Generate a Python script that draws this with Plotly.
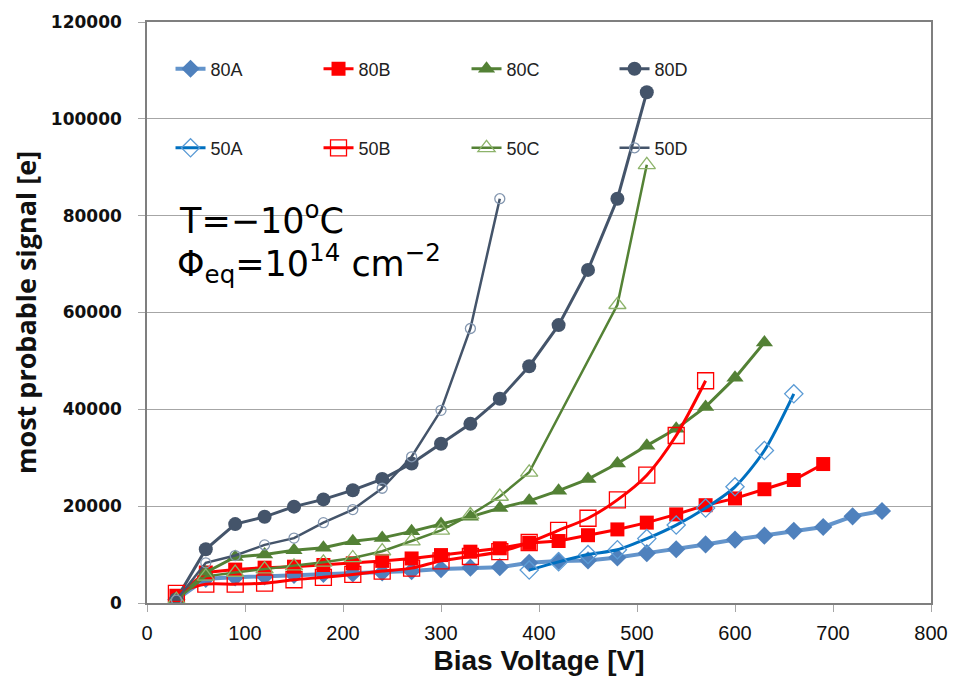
import plotly.graph_objects as go

# Bias voltage [V] and most probable signal [e] per sensor
v_80A = [30, 60, 90, 120, 150, 180, 210, 240, 270, 300, 330, 360, 390, 420, 450,
         480, 510, 540, 570, 600, 630, 660, 690, 720, 750]
s_80A = [700, 5000, 5300, 5500, 5800, 6000, 6100, 6300, 6600, 7000, 7300, 7400, 8300,
         8700, 8800, 9400, 10300, 11100, 12100, 13100, 13900, 14900, 15700, 17900, 19000]

v_80B = [30, 60, 90, 120, 150, 180, 210, 240, 270, 300, 330, 360, 390, 420, 450,
         480, 510, 540, 570, 600, 630, 660, 690]
s_80B = [1500, 6300, 6900, 7300, 7500, 7850, 8200, 8700, 9200, 9900, 10600, 11300,
         12400, 12800, 14000, 15200, 16600, 18300, 20200, 21600, 23500, 25400, 28700]

v_80C = [30, 60, 90, 120, 150, 180, 210, 240, 270, 300, 330, 360, 390, 420, 450,
         480, 510, 540, 570, 600, 630]
s_80C = [700, 6300, 9500, 10000, 10900, 11400, 12750, 13450, 14800, 16300, 17800,
         19600, 21100, 23200, 25600, 28800, 32500, 36000, 40500, 46500, 53800]

v_80D = [30, 60, 90, 120, 150, 180, 210, 240, 270, 300, 330, 360, 390, 420, 450, 480, 510]
s_80D = [800, 11100, 16300, 17800, 19900, 21400, 23300, 25600, 28800, 32900, 37000,
         42200, 48900, 57400, 68800, 83500, 105500]

v_50A = [390, 420, 450, 480, 510, 540, 570, 600, 630, 660]
s_50A = [6800, 8500, 10000, 11000, 13300, 16100, 19600, 24000, 31500, 43200]

v_50B = [30, 60, 90, 120, 150, 180, 210, 240, 270, 300, 330, 360, 390, 420, 450,
         480, 510, 540, 570]
s_50B = [2000, 3900, 3900, 4100, 4800, 5300, 5900, 6600, 7200, 8700, 9600, 10600,
         12500, 15000, 17500, 21300, 26400, 34600, 45900]

v_50C = [30, 60, 90, 120, 150, 180, 210, 240, 270, 300, 330, 360, 390, 480, 510]
s_50C = [700, 5500, 6300, 7000, 7600, 8400, 9300, 10700, 12800, 15000, 18200, 22000,
         27000, 61600, 90500]

v_50D = [30, 60, 90, 120, 150, 180, 210, 240, 270, 300, 330, 360]
s_50D = [600, 8300, 9800, 12000, 13400, 16600, 19300, 23700, 30200, 39800, 56700, 83500]

x_ticks = [0, 100, 200, 300, 400, 500, 600, 700, 800]
y_ticks = [0, 20000, 40000, 60000, 80000, 100000, 120000]

fig = go.Figure()

# 80 um sensors: filled markers, straight segments
series_80 = [
    ("80A", v_80A, s_80A, "#6394CB", "#4F81BD", "diamond", 14, 4),
    ("80B", v_80B, s_80B, "#FF0000", "#FF0000", "square", 14, 3),
    ("80C", v_80C, s_80C, "#538135", "#538135", "triangle-up", 15, 3),
    ("80D", v_80D, s_80D, "#44546A", "#44546A", "circle", 14, 3),
]
for name, xs, ys, lc, mc, sym, ms, lw in series_80:
    fig.add_trace(go.Scatter(
        x=xs, y=ys, name=name, mode="lines+markers", legend="legend",
        line=dict(color=lc, width=lw),
        marker=dict(symbol=sym, size=ms, color=mc, line=dict(width=0)),
    ))

# 50 um sensors: open markers
series_50 = [
    ("50A", v_50A, s_50A, "#0070C0", "#5B9BD5", "diamond-open", 14, 3, "spline"),
    ("50B", v_50B, s_50B, "#FF0000", "#FF0000", "square-open", 16, 3, "spline"),
    ("50C", v_50C, s_50C, "#548235", "#8DB36B", "triangle-up-open", 15, 2.5, "linear"),
    ("50D", v_50D, s_50D, "#44546A", "#8497B0", "circle-open", 10, 2.5, "linear"),
]
for name, xs, ys, lc, mc, sym, ms, lw, shape in series_50:
    fig.add_trace(go.Scatter(
        x=xs, y=ys, name=name, mode="lines+markers", legend="legend2",
        line=dict(color=lc, width=lw, shape=shape, smoothing=0.8),
        marker=dict(symbol=sym, size=ms, color=mc, line=dict(width=1.3, color=mc)),
    ))

legend_common = dict(
    orientation="h", xanchor="left", yanchor="middle",
    bgcolor="rgba(0,0,0,0)", entrywidth=103, entrywidthmode="pixels",
    font=dict(family="Liberation Sans, Arial, sans-serif", size=18, color="#222222"),
    itemsizing="trace",
)
fig.update_layout(
    width=960, height=683,
    margin=dict(l=147, r=23, t=19, b=78),
    paper_bgcolor="white", plot_bgcolor="white",
    showlegend=True,
    legend=dict(x=0.03, y=0.919, **legend_common),
    legend2=dict(x=0.03, y=0.783, **legend_common),
    xaxis=dict(
        range=[0, 800], tickvals=x_ticks, ticktext=[str(t) for t in x_ticks],
        showgrid=False, zeroline=False,
        showline=True, linecolor="#7F7F7F", linewidth=1.5, mirror=True,
        ticks="outside", ticklen=7, tickcolor="#A6A6A6", tickwidth=1,
        ticklabelstandoff=4,
        tickfont=dict(family="Liberation Sans Narrow, Arial Narrow, sans-serif", size=20,
                      color="#111111"),
        title=dict(text="<b>Bias Voltage [V]</b>", standoff=8,
                   font=dict(family="Liberation Sans Narrow, Arial Narrow, sans-serif",
                             size=28, color="#111111")),
    ),
    yaxis=dict(
        range=[0, 120000], tickvals=y_ticks, ticktext=[str(t) for t in y_ticks],
        showgrid=True, gridcolor="#A6A6A6", gridwidth=1.3, zeroline=False,
        showline=True, linecolor="#7F7F7F", linewidth=1.5, mirror=True,
        ticks="outside", ticklen=7, tickcolor="#A6A6A6", tickwidth=1,
        ticklabelstandoff=13,
        tickfont=dict(family="DejaVu Sans, Verdana, sans-serif", size=17, color="#111111",
                      weight="bold"),
        title=dict(text="<b>most probable signal [e]</b>", standoff=6,
                   font=dict(family="Open Sans, sans-serif", size=27, color="#111111")),
    ),
)

# Measurement conditions
fig.add_annotation(
    xref="paper", yref="paper", x=(177 - 147) / 790, y=(605 - 217) / 586,
    xanchor="left", yanchor="middle", showarrow=False,
    text="T=\u221210<sup>o</sup>C",
    font=dict(family="DejaVu Sans, sans-serif", size=35, color="#000000"),
)
fig.add_annotation(
    xref="paper", yref="paper", x=(175 - 147) / 790, y=(605 - 263) / 586,
    xanchor="left", yanchor="middle", showarrow=False,
    text="\u03a6<sub>eq</sub>=10<sup>14</sup> cm<sup>\u22122</sup>",
    font=dict(family="DejaVu Sans, sans-serif", size=35, color="#000000"),
)

fig.write_html("out.html")
